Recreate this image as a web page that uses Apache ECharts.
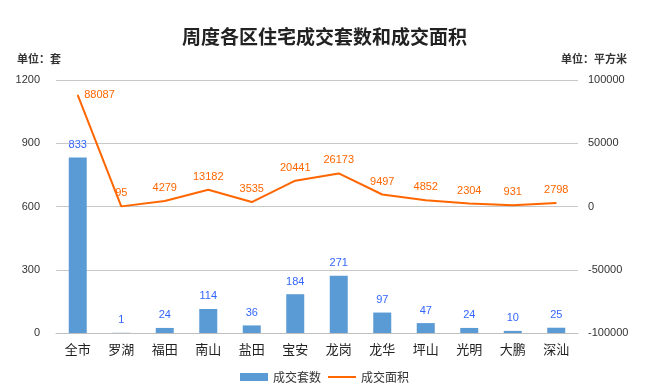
<!DOCTYPE html>
<html><head><meta charset="utf-8">
<script src="https://cdn.jsdelivr.net/npm/echarts@6/dist/echarts.min.js"></script>
<style>html,body{margin:0;padding:0;background:#fff}#c{width:649px;height:389px}</style>
</head><body><div id="c"></div>
<script>
const categories = ['全市','罗湖','福田','南山','盐田','宝安','龙岗','龙华','坪山','光明','大鹏','深汕'];
const units = [833,1,24,114,36,184,271,97,47,24,10,25];
const area = [88087,95,4279,13182,3535,20441,26173,9497,4852,2304,931,2798];
const leftTicks = {min:0,max:1200,interval:300};
const rightTicks = {min:-100000,max:100000,interval:50000};

const chart = echarts.init(document.getElementById('c'));
const font = '"Noto Sans CJK SC", "Noto Sans", sans-serif';
const numFont = '"Liberation Sans", Arial, sans-serif';
chart.setOption({
  animation:false,
  textStyle:{fontFamily:font},
  title:{text:'周度各区住宅成交套数和成交面积',left:'center',top:22,
    textStyle:{fontFamily:font,fontSize:19,fontWeight:'bold',color:'#222'}},
  graphic:[
    {type:'text',left:17,top:53,style:{text:'单位：套',font:'bold 11px "Noto Sans CJK SC"',fill:'#333'}},
    {type:'text',right:22,top:53,style:{text:'单位：平方米',font:'bold 11px "Noto Sans CJK SC"',fill:'#333'}}
  ],
  legend:{bottom:1,left:'center',itemWidth:28,itemHeight:8,itemGap:6,
    textStyle:{fontFamily:font,fontSize:12,color:'#333'},
    data:[{name:'成交套数',icon:'rect'},{name:'成交面积',itemStyle:{opacity:0}}]},
  grid:{left:56,right:71,top:80,bottom:56},
  xAxis:{type:'category',data:categories,
    axisLine:{lineStyle:{color:'#bfbfbf'}},axisTick:{show:false},
    axisLabel:{color:'#222',fontSize:13,fontFamily:font,margin:10}},
  yAxis:[
    {type:'value',min:leftTicks.min,max:leftTicks.max,interval:leftTicks.interval,
     axisLine:{show:false},axisTick:{show:false},
     splitLine:{lineStyle:{color:'#c8c8c8'}},
     axisLabel:{color:'#333',fontSize:11,fontFamily:numFont,margin:16,formatter:v=>String(v)}},
    {type:'value',min:rightTicks.min,max:rightTicks.max,interval:rightTicks.interval,
     axisLine:{show:false},axisTick:{show:false},splitLine:{show:false},
     axisLabel:{color:'#333',fontSize:11,fontFamily:numFont,margin:10,formatter:v=>String(v)}}
  ],
  series:[
    {name:'成交套数',type:'bar',data:units,barWidth:18,yAxisIndex:0,
     itemStyle:{color:'#5B9BD5'},
     label:{show:true,position:'top',color:'#3366FF',fontSize:11,fontFamily:numFont,distance:7}},
    {name:'成交面积',type:'line',data:area.map((v,i)=>i===0?{value:v,label:{position:'right',distance:6}}:v),
     yAxisIndex:1,showSymbol:true,symbol:'circle',symbolSize:1,
     lineStyle:{color:'#FF6600',width:2},itemStyle:{color:'#FF6600'},
     label:{show:true,position:'top',color:'#FF6600',fontSize:11,fontFamily:numFont,distance:7}}
  ]
});
</script></body></html>
